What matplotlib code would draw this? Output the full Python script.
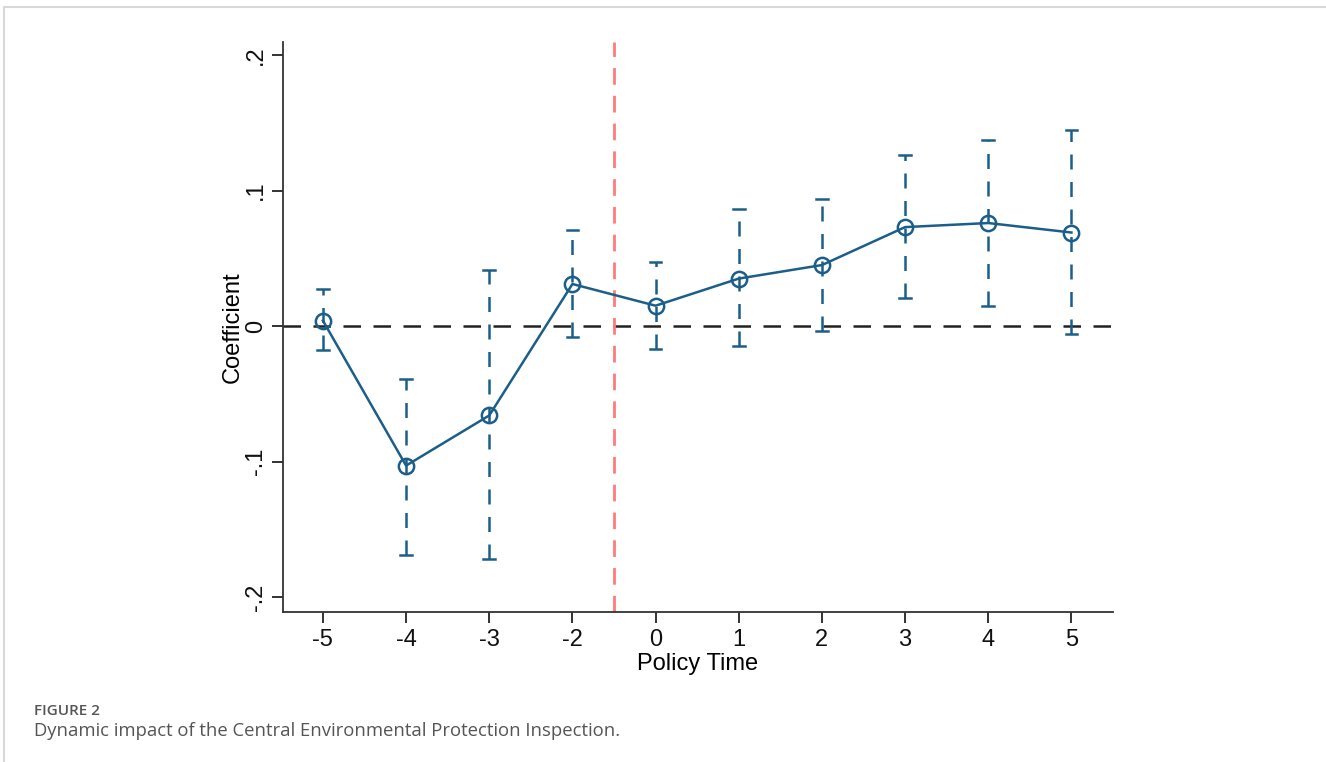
import matplotlib.pyplot as plt
from matplotlib.lines import Line2D

plt.rcParams['font.family'] = ['Liberation Sans', 'DejaVu Sans']

# event-time labels and estimates
periods = ['-5', '-4', '-3', '-2', '0', '1', '2', '3', '4', '5']
coef = [0.004, -0.103, -0.066, 0.031, 0.015, 0.035, 0.045, 0.073, 0.076, 0.069]
ci_low = [-0.018, -0.169, -0.172, -0.008, -0.017, -0.015, -0.004, 0.021, 0.015, -0.006]
ci_high = [0.027, -0.039, 0.041, 0.071, 0.047, 0.086, 0.094, 0.126, 0.137, 0.145]
yticks = [-0.2, -0.1, 0, 0.1, 0.2]
yticklabels = ['-.2', '-.1', '0', '.1', '.2']

blue = '#1c5e8a'

fig = plt.figure(figsize=(13.26, 7.62), dpi=100)
ax = fig.add_axes([0.2134, 0.1969, 0.626, 0.748])

x = list(range(len(periods)))

# confidence intervals
for xi, lo, hi in zip(x, ci_low, ci_high):
    ax.plot([xi, xi], [lo, hi], color=blue, lw=1.8, dashes=(6, 5))
    ax.plot([xi - 0.07, xi + 0.07], [lo, lo], color=blue, lw=1.8)
    ax.plot([xi - 0.07, xi + 0.07], [hi, hi], color=blue, lw=1.8)

ax.axhline(0, color='#222222', lw=1.8, dashes=(7, 5), zorder=1)
ax.axvline(3.5, color='#ff7b7b', lw=2, dashes=(6, 4))

ax.plot(x, coef, color=blue, lw=1.8, marker='o', markersize=11,
        markerfacecolor='none', markeredgecolor=blue, markeredgewidth=1.8)

ax.set_xlim(-0.48, 9.5)
ax.set_ylim(-0.211, 0.2096)
ax.set_xticks(x)
ax.set_xticklabels(periods)
ax.set_yticks(yticks)
ax.set_yticklabels(yticklabels, rotation=90, va='center')
ax.tick_params(direction='out', length=8, width=1.2, labelsize=17, colors='#111111')
ax.tick_params(axis='x', pad=4)
ax.set_xlabel('Policy Time', fontsize=17, labelpad=2)
ax.set_ylabel('Coefficient', fontsize=17, labelpad=1)

ax.spines['top'].set_visible(False)
ax.spines['right'].set_visible(False)
ax.spines['left'].set_linewidth(1.3)
ax.spines['bottom'].set_linewidth(1.3)
ax.spines['left'].set_color('#333333')
ax.spines['bottom'].set_color('#333333')

# page frame
fig.add_artist(Line2D([0.003, 1], [0.991, 0.991], color='#d8d8d8', lw=1.5))
fig.add_artist(Line2D([0.003, 0.003], [0, 0.991], color='#d8d8d8', lw=1.5))

fig.text(0.0256, 0.067, 'FIGURE 2', fontsize=11, color='#555555', weight='semibold',
         family=['Open Sans', 'DejaVu Sans'], va='center')
fig.text(0.0256, 0.041, 'Dynamic impact of the Central Environmental Protection Inspection.',
         fontsize=13.3, color='#555555', family=['Open Sans', 'DejaVu Sans'], va='center')

fig.savefig('out.png', dpi=100)
